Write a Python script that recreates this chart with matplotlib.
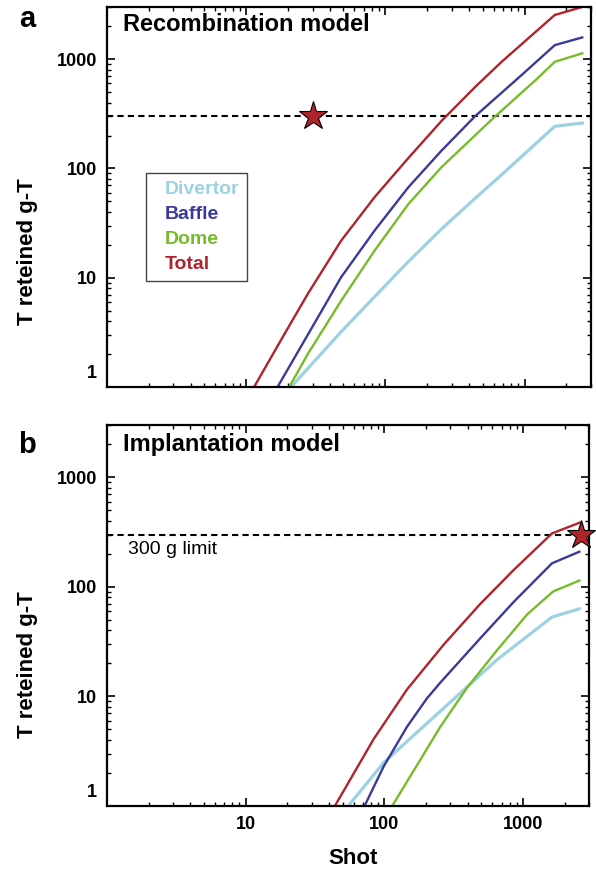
import matplotlib
matplotlib.use("Agg")
import matplotlib.pyplot as plt
from matplotlib.ticker import FixedLocator, LogLocator, FuncFormatter, NullFormatter
from matplotlib.transforms import ScaledTranslation

plt.rcParams['font.family'] = ['Liberation Sans', 'DejaVu Sans']
plt.rcParams['font.weight'] = 'bold'

# series names and colours
names = ["Divertor", "Baffle", "Dome", "Total"]
colors = ["#9dd2e3", "#3a3a9a", "#76bc2a", "#b0232a"]

# (a) recombination model
rec_div_x = [21, 48.1, 83.7, 146, 254, 418, 688, 1650, 2600]
rec_div_y = [1, 3.2, 6.7, 14, 28, 50, 88, 243, 260]
rec_baf_x = [16.8, 27.7, 48.1, 83.7, 146, 254, 441, 959, 1650, 2600]
rec_baf_y = [1, 3.0, 10.1, 27, 67, 146, 300, 720, 1343, 1580]
rec_dome_x = [20.4, 27.7, 48.1, 83.7, 146, 254, 599, 1197, 1650, 2600]
rec_dome_y = [1, 2.0, 6.15, 17.7, 47, 103, 290, 640, 945, 1130]
rec_tot_x = [11.4, 18.7, 27.7, 48.1, 83.7, 146, 254, 441, 688, 1650, 2600]
rec_tot_y = [1, 3.0, 7.1, 21.8, 54.6, 124, 273, 555, 950, 2535, 3000]

# (b) implantation model
imp_div_x = [55, 99, 254, 395, 652, 1620, 2550]
imp_div_y = [1, 2.49, 7.35, 12.2, 21.7, 53, 63]
imp_baf_x = [72, 99, 146, 203, 254, 493, 859, 1620, 2550]
imp_baf_y = [1, 2.3, 5.3, 9.6, 13.4, 34, 73, 164, 209]
imp_dome_x = [114, 254, 395, 652, 1072, 1650, 2550]
imp_dome_y = [1, 5.3, 12.0, 26.5, 56, 90.7, 114]
imp_tot_x = [44, 84, 146, 270, 493, 859, 1620, 2550]
imp_tot_y = [1, 4.1, 11.6, 30, 70, 143, 307, 384]

limit = 300
star_a = (30, 300)
star_b = (2600, 300)

fig = plt.figure(figsize=(5.96, 8.72), dpi=100)
ax1 = fig.add_axes([0.1795, 0.5562, 0.812, 0.4358])
ax2 = fig.add_axes([0.1795, 0.0757, 0.809, 0.437])


def style(ax):
    ax.set_xscale('log')
    ax.set_yscale('log')
    ax.set_xlim(1, 3000)
    ax.set_ylim(1, 3000)
    ax.xaxis.set_major_locator(FixedLocator([10, 100, 1000]))
    ax.yaxis.set_major_locator(FixedLocator([1, 10, 100, 1000]))
    ax.xaxis.set_minor_locator(LogLocator(base=10, subs=range(2, 10), numticks=20))
    ax.yaxis.set_minor_locator(LogLocator(base=10, subs=range(2, 10), numticks=20))
    fmt = FuncFormatter(lambda v, p: f"{v:g}")
    ax.xaxis.set_major_formatter(fmt)
    ax.yaxis.set_major_formatter(fmt)
    ax.xaxis.set_minor_formatter(NullFormatter())
    ax.yaxis.set_minor_formatter(NullFormatter())
    ax.tick_params(which='both', direction='in', top=True, right=True)
    ax.tick_params(which='major', length=6, width=1.2, labelsize=13, pad=7)
    ax.tick_params(which='minor', length=3, width=1)
    for s in ax.spines.values():
        s.set_linewidth(1.6)
    ax.set_ylabel("T reteined g-T", fontsize=16, fontweight='bold')
    ax.axhline(limit, color='k', ls=(0, (3, 2)), lw=1.5, zorder=1)


style(ax1)
style(ax2)

# panel a
l1 = ax1.plot(rec_div_x, rec_div_y, color=colors[0], lw=2.3)[0]
l2 = ax1.plot(rec_baf_x, rec_baf_y, color=colors[1], lw=1.7)[0]
l3 = ax1.plot(rec_dome_x, rec_dome_y, color=colors[2], lw=1.7)[0]
l4 = ax1.plot(rec_tot_x, rec_tot_y, color=colors[3], lw=1.7)[0]
ax1.plot(*star_a, marker='*', ms=21, mfc=colors[3], mec='k', mew=0.8,
         zorder=5, clip_on=False)
ax1.tick_params(labelbottom=False)
ax1.text(0.033, 0.953, "Recombination model", transform=ax1.transAxes,
         fontsize=17, fontweight='bold', va='center')
ax1.yaxis.set_label_coords(-0.143, 0.355)

leg = ax1.legend([l1, l2, l3, l4], names, loc='upper left',
                 bbox_to_anchor=(0.081, 0.563), borderaxespad=0,
                 handlelength=0.55, handletextpad=0, labelcolor='linecolor',
                 fancybox=False, edgecolor='#444444', framealpha=1,
                 fontsize=14, labelspacing=0.38, borderpad=0.4)
leg.get_frame().set_linewidth(1.0)
for h in leg.legend_handles:
    h.set_visible(False)

# panel b
ax2.plot(imp_div_x, imp_div_y, color=colors[0], lw=2.3)
ax2.plot(imp_baf_x, imp_baf_y, color=colors[1], lw=1.7)
ax2.plot(imp_dome_x, imp_dome_y, color=colors[2], lw=1.7)
ax2.plot(imp_tot_x, imp_tot_y, color=colors[3], lw=1.7)
ax2.plot(*star_b, marker='*', ms=21, mfc=colors[3], mec='k', mew=0.8,
         zorder=5, clip_on=False)
ax2.text(0.033, 0.948, "Implantation model", transform=ax2.transAxes,
         fontsize=17, fontweight='bold', va='center')
ax2.text(0.043, 0.672, "300 g limit", transform=ax2.transAxes,
         fontsize=14, fontweight='normal', va='center')
ax2.set_xlabel("Shot", fontsize=16, fontweight='bold')
ax2.xaxis.set_label_coords(0.51, -0.11)
ax2.yaxis.set_label_coords(-0.143, 0.37)

fig.text(0.045, 0.969, "a", fontsize=21, fontweight='bold', ha='center')
fig.text(0.045, 0.4805, "b", fontsize=21, fontweight='bold', ha='center')

# lift the "1" labels a little off the bottom spine
fig.canvas.draw()
for ax in (ax1, ax2):
    t = ax.yaxis.get_major_ticks()[0]
    t.label1.set_transform(t.label1.get_transform() +
                           ScaledTranslation(0, 0.15, fig.dpi_scale_trans))

fig.savefig("out.png", dpi=100)
